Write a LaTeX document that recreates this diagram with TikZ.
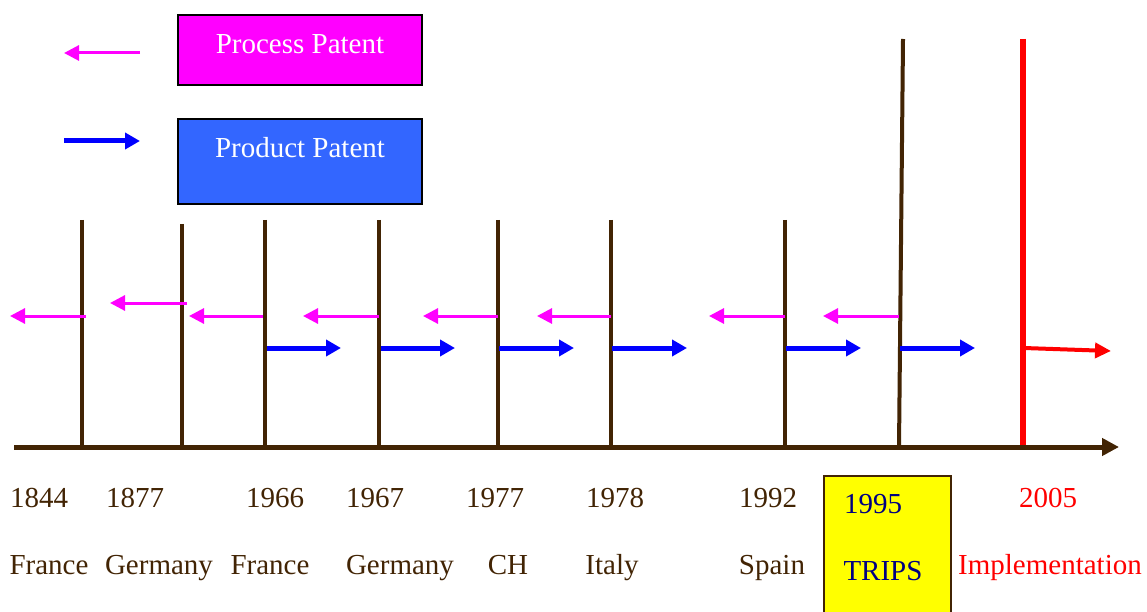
\documentclass[tikz,border=0pt]{standalone}
\usepackage{fontspec}
\setmainfont{Liberation Serif}
\usetikzlibrary{arrows.meta}
\definecolor{brn}{RGB}{66,36,4}
\definecolor{mag}{RGB}{255,0,255}
\definecolor{bluebox}{RGB}{51,102,255}
\definecolor{blu}{RGB}{0,0,255}
\definecolor{rd}{RGB}{255,0,0}
\definecolor{yel}{RGB}{255,255,0}
\definecolor{navy}{RGB}{0,0,128}
\begin{document}
\begin{tikzpicture}[x=1pt,y=-1pt,
  txt/.style={font=\fontsize{29}{34}\selectfont, inner sep=0pt, anchor=base},
  tick/.style={draw=brn, line width=4pt},
  procarrow/.style={draw=mag, line width=3pt, -{Triangle[length=15pt,width=15pt]}},
  prodarrow/.style={draw=blu, line width=5pt, -{Triangle[length=15pt,width=16pt]}},
  legbox/.style={draw=black, line width=2pt, minimum width=244pt, inner sep=0pt}
]
\useasboundingbox (0,0) rectangle (1147,612);

% legend
\node[legbox, fill=mag, minimum height=70pt] (pbox) at (300,50) {};
\node[txt, text=white] (ptxt) at (300,54) {Process Patent};
\node[legbox, fill=bluebox, minimum height=85pt] (dbox) at (300,161.5) {};
\node[txt, text=white] (dtxt) at (300,158) {Product Patent};
\coordinate (lp1) at (140,53); \coordinate (lp2) at (64,53);
\draw[procarrow] (lp1) -- (lp2);
\coordinate (ld1) at (64,141); \coordinate (ld2) at (140,141);
\draw[prodarrow] (ld1) -- (ld2);

% ticks
\foreach \n/\x/\t in {a/82/220, b/182/224, c/265/220, d/379/220, e/498/220, f/611/220, g/785/220}{
  \coordinate (\n top) at (\x,\t);
  \coordinate (\n bot) at (\x,447);
  \draw[tick] (\n top) -- (\n bot);
}
\coordinate (htop) at (903,39); \coordinate (hbot) at (899,447);
\draw[draw=brn, line width=4pt] (htop) -- (hbot);
\coordinate (rtop) at (1022.5,39); \coordinate (rbot) at (1022.5,447);
\draw[draw=rd, line width=6pt] (rtop) -- (rbot);

% axis
\coordinate (ax0) at (14,447); \coordinate (ax1) at (1119,447);
\draw[draw=brn, line width=5pt, -{Triangle[length=17pt,width=17pt]}] (ax0) -- (ax1);

% process arrows
\foreach \i/\s/\e/\y in {1/86/10/316, 2/187/110/303, 3/263/189/316, 4/379/303/316, 5/498/423/316, 6/611/537/316, 7/785/709/316, 8/899/823/316}{
  \coordinate (ps\i) at (\s,\y); \coordinate (pe\i) at (\e,\y);
  \draw[procarrow] (ps\i) -- (pe\i);
}
% product arrows
\foreach \i/\s/\e in {1/267/341, 2/381/455, 3/499/574, 4/612/687, 5/786/861, 6/900/975}{
  \coordinate (ds\i) at (\s,348); \coordinate (de\i) at (\e,348);
  \draw[prodarrow] (ds\i) -- (de\i);
}
\coordinate (rs) at (1024,348); \coordinate (re) at (1111,351);
\draw[draw=rd, line width=4pt, -{Triangle[length=16pt,width=15pt]}] (rs) -- (re);

% TRIPS box
\node[draw=brn, line width=2pt, fill=yel, minimum width=127pt, minimum height=140pt, inner sep=0pt, anchor=north west] (tbox) at (823,475) {};

% labels
\foreach \n/\x/\t in {y1/39/1844, y2/135/1877, y3/275/1966, y4/375/1967, y5/495/1977, y6/615/1978, y7/768/1992}{
  \node[txt, text=brn] (\n) at (\x,507) {\t};
}
\foreach \n/\x/\t in {c1/49/France, c2/159/Germany, c3/270/France, c4/400/Germany, c5/508/CH, c6/612/Italy, c7/772/Spain}{
  \node[txt, text=brn] (\n) at (\x,574) {\t};
}
\node[txt, text=navy] (y8) at (873,513) {1995};
\node[txt, text=navy] (c8) at (883,580) {TRIPS};
\node[txt, text=rd] (y9) at (1048,507) {2005};
\node[txt, text=rd] (c9) at (1050,574) {Implementation};
\end{tikzpicture}
\end{document}
